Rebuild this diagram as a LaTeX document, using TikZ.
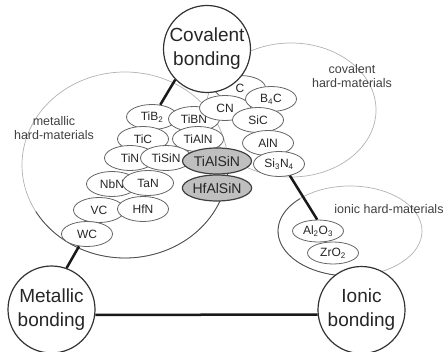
\documentclass[tikz,border=0pt]{standalone}
\usepackage{fontspec}
\setmainfont{Liberation Sans}
\usetikzlibrary{shapes.geometric}
\begin{document}
\begin{tikzpicture}[x=1pt,y=-1pt,
  mat/.style={ellipse, draw=black!60, line width=0.8pt, fill=white, minimum width=51pt, minimum height=25pt, inner sep=0pt, font=\fontsize{12}{12}\selectfont, text=black!85},
  hl/.style={mat, fill=black!25, draw=black!75, line width=1.2pt, minimum width=69pt, minimum height=26pt, font=\fontsize{14}{14}\selectfont},
  bond/.style={circle, draw=black!80, line width=1.2pt, fill=white, minimum size=87pt, inner sep=0pt, align=center, font=\fontsize{19}{24}\selectfont, text=black!85},
  grp/.style={font=\fontsize{12.5}{13.5}\selectfont, text=black!75, align=center},
  grpline/.style={black!30, line width=0.7pt},
  grpdark/.style={black!70, line width=0.8pt},
  link/.style={line width=2.5pt, black!90}]
\useasboundingbox (0,0) rectangle (443,352);

% group ellipses
\draw[grpline] (125,165) ellipse [x radius=103, y radius=93];
\draw[grpdark] (125,165) ++(-10:103 and 93) arc[start angle=-10, end angle=150, x radius=103, y radius=93];
\draw[grpline] (291,110) ellipse [x radius=85, y radius=67];
\draw[grpline] (350,231) ellipse [x radius=72, y radius=45];
\draw[grpdark] (350,231) ++(98:72 and 45) arc[start angle=98, end angle=226, x radius=72, y radius=45];

% group labels
\node[grp] (metlab) at (54,128) {metallic\\hard-materials};
\node[grp] (covlab) at (352,76) {covalent\\hard-materials};
\node[grp] (ionlab) at (389,209) {ionic hard-materials};

% metallic materials
\node[mat] (tib2) at (152,117) {TiB\textsubscript{2}};
\node[mat] (tibn) at (194,119) {TiBN};
\node[mat] (tic) at (143,139) {TiC};
\node[mat] (tialn) at (198,139) {TiAlN};
\node[mat] (tin) at (130,158) {TiN};
\node[mat] (tisin) at (166,158) {TiSiN};
\node[mat] (nbn) at (112,184) {NbN};
\node[mat] (tan) at (148,183) {TaN};
\node[mat] (vc) at (99,210) {VC};
\node[mat] (hfn) at (143,209) {HfN};
\node[mat] (wc) at (87,234) {WC};

% covalent materials
\node[mat] (c) at (240,88) {C};
\node[mat] (cn) at (225,108) {CN};
\node[mat] (b4c) at (271,99) {B\textsubscript{4}C};
\node[mat] (sic) at (258,120) {SiC};
\node[mat] (aln) at (268,143) {AlN};
\node[mat] (si3n4) at (279,164) {Si\textsubscript{3}N\textsubscript{4}};

% highlighted
\node[hl] (tialsin) at (217,161) {TiAlSiN};
\node[hl] (hfalsin) at (217,188) {HfAlSiN};

% ionic materials
\node[mat, minimum height=22pt] (al2o3) at (318,231) {Al\textsubscript{2}O\textsubscript{3}};
\node[mat, minimum height=22pt] (zro2) at (333,253) {ZrO\textsubscript{2}};

% bonding circles
\node[bond] (cov) at (207,49) {Covalent\\bonding};
\node[bond] (met) at (51.5,309.5) {Metallic\\bonding};
\node[bond] (ion) at (361.5,310) {Ionic\\bonding};

% connectors
\draw[link] (cov.224) -- (tib2.56);
\draw[link] (met.70) -- (wc.237);
\draw[link] (si3n4.313) -- (al2o3.94);
\draw[link] (met.-7.3) -- (ion.186.6);
\end{tikzpicture}
\end{document}
